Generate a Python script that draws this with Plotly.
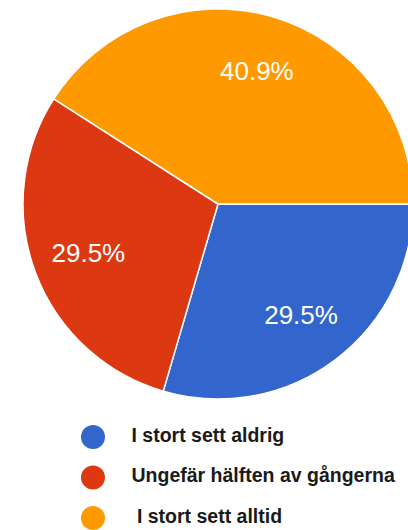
import plotly.graph_objects as go

labels = ["I stort sett aldrig", "Ungefär hälften av gångerna", "I stort sett alltid"]
legend_labels = ["I stort sett aldrig", "Ungefär hälften av gångerna", "\u00a0I stort sett alltid"]
values = [29.5, 29.5, 40.9]
colors = ["#3366CC", "#DC3912", "#FF9900"]

W, H = 420, 530  # canvas slightly wider than the 408px view so the pie runs off the right edge

pie_domain = dict(x=[23 / W, 413 / W], y=[1 - 399 / H, 1 - 9 / H])
common = dict(
    labels=labels,
    values=values,
    sort=False,
    direction="clockwise",
    rotation=90,
    domain=pie_domain,
    showlegend=False,
)

fig = go.Figure()

# full pie (the slices)
fig.add_trace(go.Pie(
    textinfo="none",
    marker=dict(colors=colors, line=dict(color="#FFFFFF", width=1.5)),
    hoverinfo="label+percent",
    **common,
))
# transparent ring on top, used only to carry the percentage labels out towards the rim
fig.add_trace(go.Pie(
    hole=0.42,
    marker=dict(colors=["rgba(0,0,0,0)"] * len(labels), line=dict(width=0)),
    texttemplate="%{percent:.1%}",
    textposition="inside",
    insidetextorientation="horizontal",
    textfont=dict(family="Liberation Sans, Arial, sans-serif", size=26, color="#FFFFFF"),
    hoverinfo="skip",
    **common,
))

# legend drawn as a small table: symbol column (0) and label column (1)
fig.add_trace(go.Scatter(
    x=[0] * len(labels),
    y=list(range(len(labels))),
    mode="markers",
    marker=dict(color=colors, size=24, symbol="circle"),
    showlegend=False,
    hoverinfo="skip",
    xaxis="x", yaxis="y",
))
fig.add_trace(go.Scatter(
    x=[1] * len(labels),
    y=list(range(len(labels))),
    mode="text",
    text=legend_labels,
    textposition="middle right",
    textfont=dict(family="Liberation Sans, Arial, sans-serif", size=19.5, color="#1a1a1a", weight="bold"),
    showlegend=False,
    hoverinfo="skip",
    xaxis="x", yaxis="y",
))

px_col = 38.5  # pixel distance between symbol column and label column
fig.update_layout(
    width=W,
    height=H,
    margin=dict(l=0, r=0, t=0, b=0),
    paper_bgcolor="#FFFFFF",
    plot_bgcolor="rgba(0,0,0,0)",
    xaxis=dict(domain=[0, 1], range=[-93 / px_col, (W - 93) / px_col], visible=False, fixedrange=True),
    yaxis=dict(domain=[0, 130 / H], range=[2 + 12 / 40.5, -37 / 40.5], visible=False, fixedrange=True),
)

fig.write_html(
    "out.html",
    config={"displayModeBar": False},
    post_script="document.body.style.margin='0';document.body.style.overflow='hidden';",
)
